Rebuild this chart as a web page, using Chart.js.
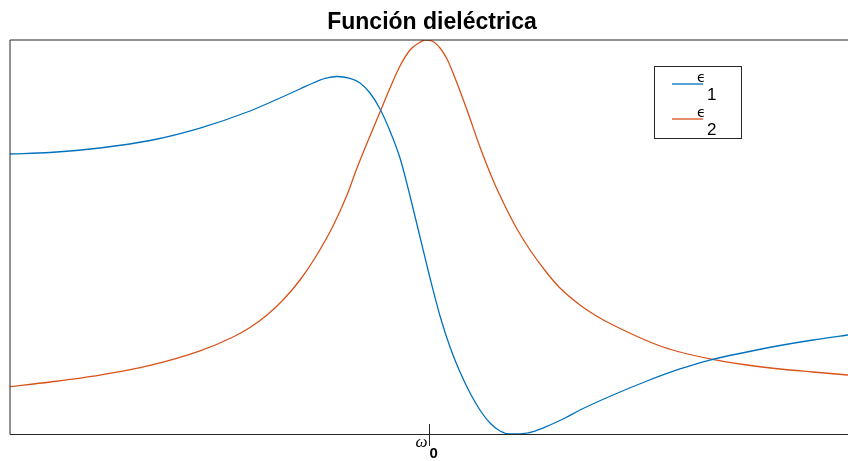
<!DOCTYPE html>
<html>
<head>
<meta charset="utf-8">
<script src="https://cdn.jsdelivr.net/npm/chart.js@4"></script>
<style>
  html, body { margin: 0; padding: 0; background: #fff; }
  #wrap { width: 848px; height: 461px; }
</style>
</head>
<body>
<div id="wrap"><canvas id="grafico"></canvas></div>
<script>
// frecuencia normalizada (w / w0) y valores (escala 0..1)
const xEps1 = [0, 0.0955, 0.2148, 0.3341, 0.4535, 0.5728, 0.6444, 0.6921, 0.7232, 0.7518, 0.7804, 0.8115, 0.8353, 0.8592, 0.8831, 0.9069, 0.9308, 0.9547, 0.9785, 1.0024, 1.0263, 1.0501, 1.0740, 1.0979, 1.1217, 1.1456, 1.1695, 1.1933, 1.2172, 1.2530, 1.2888, 1.3246, 1.3604, 1.4391, 1.5203, 1.5990, 1.6706, 1.7589, 1.8377, 1.9165, 2.0];
const eps1  = [0.7107, 0.7145, 0.7259, 0.7449, 0.7766, 0.8198, 0.8528, 0.8756, 0.8909, 0.9023, 0.9074, 0.9023, 0.8909, 0.8655, 0.8249, 0.7690, 0.7005, 0.6041, 0.5000, 0.3959, 0.2995, 0.2208, 0.1574, 0.1041, 0.0609, 0.0279, 0.0076, 0, 0.0005, 0.0076, 0.0228, 0.0406, 0.0609, 0.0990, 0.1345, 0.1650, 0.1878, 0.2081, 0.2246, 0.2386, 0.2513];

const xEps2 = [0, 0.0955, 0.2148, 0.3341, 0.4535, 0.5322, 0.5728, 0.6134, 0.6516, 0.6921, 0.7279, 0.7709, 0.8043, 0.8282, 0.8592, 0.8831, 0.9069, 0.9308, 0.9547, 0.9737, 0.9905, 1.0072, 1.0263, 1.0430, 1.0621, 1.0907, 1.1217, 1.1527, 1.1814, 1.2100, 1.2411, 1.2816, 1.3126, 1.3604, 1.3986, 1.4391, 1.5585, 1.6706, 1.7589, 1.8377, 1.9165, 2.0];
const eps2  = [0.1201, 0.1320, 0.1497, 0.1739, 0.2107, 0.2462, 0.2703, 0.3020, 0.3401, 0.3909, 0.4467, 0.5279, 0.6066, 0.6751, 0.7563, 0.8173, 0.8782, 0.9340, 0.9746, 0.9911, 1.0, 0.9975, 0.9797, 0.9518, 0.9036, 0.8223, 0.7284, 0.6447, 0.5787, 0.5203, 0.4670, 0.4086, 0.3706, 0.3274, 0.3003, 0.2766, 0.2208, 0.1904, 0.1751, 0.1650, 0.1574, 0.1497];

const seriesNames = ['1', '2'];     // subindices de epsilon
const xTicks = [1];                 // w0
const titulo = 'Función dieléctrica';

const azul = '#0072BD';
const naranja = '#D95319';
const ejeColor = '#262626';

function puntos(xs, ys) {
    return xs.map((x, i) => ({ x: x, y: ys[i] }));
}

// Marco, titulo, tick y leyenda al estilo MATLAB
const estiloMatlab = {
    id: 'estiloMatlab',
    afterDraw(chart) {
        const ctx = chart.ctx;
        const a = chart.chartArea;
        const xs = chart.scales.x;
        ctx.save();

        // marco (sin borde derecho visible)
        ctx.strokeStyle = ejeColor;
        ctx.lineWidth = 1;
        ctx.beginPath();
        ctx.moveTo(a.right + 2, a.top);
        ctx.lineTo(a.left, a.top);
        ctx.lineTo(a.left, a.bottom + 0.5);
        ctx.stroke();
        ctx.beginPath();
        ctx.moveTo(a.left, a.bottom + 0.5);
        ctx.lineTo(a.right + 2, a.bottom + 0.5);
        ctx.stroke();

        // tick en w0
        xTicks.forEach(t => {
            const px = Math.round(xs.getPixelForValue(t)) + 0.5;
            ctx.beginPath();
            ctx.moveTo(px, a.bottom - 10);
            ctx.lineTo(px, a.bottom + 12);
            ctx.stroke();
            ctx.fillStyle = '#000';
            ctx.textBaseline = 'middle';
            ctx.textAlign = 'right';
            ctx.font = 'italic 17px "Liberation Serif"';
            ctx.fillText('ω', px - 2, a.bottom + 9);
            ctx.textAlign = 'left';
            ctx.font = 'bold 15px "Liberation Sans"';
            ctx.fillText('0', px, a.bottom + 20);
        });

        // titulo
        ctx.fillStyle = '#000';
        ctx.textAlign = 'center';
        ctx.textBaseline = 'alphabetic';
        ctx.font = 'bold 23px "Liberation Sans"';
        ctx.fillText(titulo, 432, 29);

        // leyenda
        const lx = 654.5, ly = 66.5, lw = 87, lh = 72;
        ctx.fillStyle = '#fff';
        ctx.fillRect(lx, ly, lw, lh);
        ctx.strokeStyle = ejeColor;
        ctx.lineWidth = 1;
        ctx.strokeRect(lx, ly, lw, lh);
        chart.data.datasets.forEach((ds, i) => {
            const y = 84 + i * 35;
            ctx.strokeStyle = ds.borderColor;
            ctx.lineWidth = 1.3;
            ctx.beginPath();
            ctx.moveTo(672, y);
            ctx.lineTo(703, y);
            ctx.stroke();
            ctx.fillStyle = '#000';
            ctx.textAlign = 'left';
            ctx.textBaseline = 'middle';
            ctx.font = '14px "DejaVu Sans"';
            ctx.fillText('ϵ', 697, y - 6);
            ctx.font = '17px "Liberation Sans"';
            ctx.fillText(seriesNames[i], 707, y + 11);
        });
        ctx.restore();
    }
};

new Chart(document.getElementById('grafico'), {
    type: 'line',
    data: {
        datasets: [
            {
                label: 'ϵ1',
                data: puntos(xEps1, eps1),
                borderColor: azul,
                borderWidth: 1.3,
                pointRadius: 0,
                cubicInterpolationMode: 'monotone',
                fill: false
            },
            {
                label: 'ϵ2',
                data: puntos(xEps2, eps2),
                borderColor: naranja,
                borderWidth: 1.3,
                pointRadius: 0,
                cubicInterpolationMode: 'monotone',
                fill: false
            }
        ]
    },
    options: {
        responsive: true,
        maintainAspectRatio: false,
        animation: false,
        layout: { padding: { left: 10, top: 40, right: 0, bottom: 27 } },
        plugins: {
            legend: { display: false },
            title: { display: false },
            tooltip: { enabled: false }
        },
        scales: {
            x: { type: 'linear', min: 0, max: 2, display: false },
            y: { min: 0, max: 1, display: false }
        }
    },
    plugins: [estiloMatlab]
});
</script>
</body>
</html>
